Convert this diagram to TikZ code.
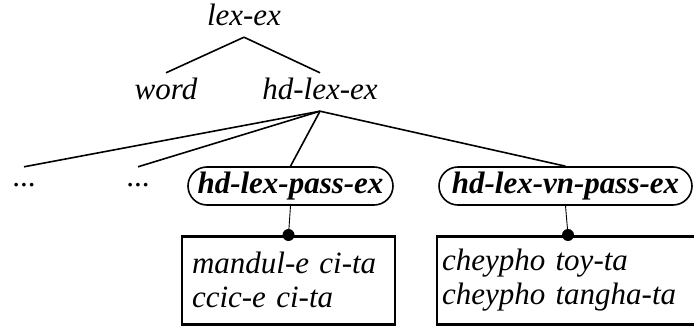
\documentclass[tikz,border=0pt]{standalone}
\usepackage{fontspec}
\setmainfont{Liberation Serif}
\newcommand\diagfont{\fontsize{31}{34}\selectfont\itshape}
\newcommand\diagbold{\fontsize{31}{34}\selectfont\bfseries\itshape}
\newcommand\diagup{\fontsize{31}{34}\selectfont\upshape}
\begin{document}
\begin{tikzpicture}[x=1pt,y=1pt,
  treenode/.style={font=\diagfont, inner xsep=0pt, inner ysep=3pt, text height=24pt, text depth=8pt, anchor=base},
  dotsnode/.style={font=\diagup, inner xsep=0pt, inner ysep=3pt, text height=16pt, text depth=2pt, anchor=base},
  typenode/.style={font=\diagbold, draw, line width=1.6pt, rounded corners=19pt, minimum height=38pt,
    inner ysep=4.5pt, text height=22pt, text depth=7pt},
  exbox/.style={font=\diagfont, draw, line width=2.6pt, align=left, anchor=north, minimum height=88pt, inner ysep=0pt},
  branch/.style={line width=1.6pt},
  link/.style={line width=0.9pt},
  junction/.style={radius=6pt}
]
\useasboundingbox (0,0) rectangle (694,-326);

\node[dotsnode] (dots1) at (24,-186) {...};
\node[dotsnode] (dots2) at (138,-186) {...};

\node[treenode] (lexex) at (244,-26) {lex-ex};
\node[treenode] (word) at (166,-100) {word};
\node[treenode] (hdlexex) at (320,-100) {hd-lex-ex};

\node[typenode, minimum width=205pt] (pass) at (290.5,-186) {hd-lex-pass-ex};
\node[typenode, minimum width=253pt] (vnpass) at (565.5,-186) {hd-lex-vn-pass-ex};

\node[exbox, text width=193pt, inner xsep=10pt] (box1) at (288.5,-235) {mandul-e ci-ta\\ccic-e ci-ta};
\node[exbox, text width=252pt, inner xsep=5pt] (box2) at (568,-235) {cheypho toy-ta\\cheypho tangha-ta};

\draw[branch] (lexex.south) -- (word.north);
\draw[branch] (lexex.south) -- (hdlexex.north);
\draw[branch] (hdlexex.south) -- (dots1.north);
\draw[branch] (hdlexex.south) -- (dots2.north);
\draw[branch] (hdlexex.south) -- (pass.north);
\draw[branch] (hdlexex.south) -- (vnpass.north);

\draw[link] (pass.south) -- (box1.north);
\draw[link] (vnpass.south) -- (box2.north);
\fill[junction] (box1.north) circle;
\fill[junction] (box2.north) circle;
\end{tikzpicture}
\end{document}
